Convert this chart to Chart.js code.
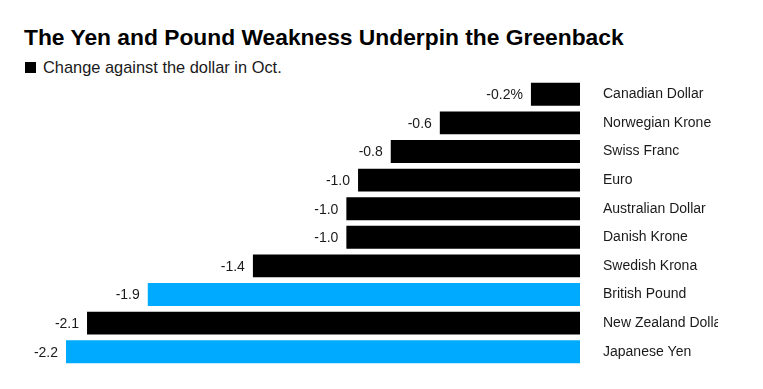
<!DOCTYPE html>
<html>
<head>
<meta charset="utf-8">
<script src="https://cdn.jsdelivr.net/npm/chart.js@4"></script>
<style>
  body { margin: 0; background: #fff; font-family: "Liberation Sans", Arial, sans-serif; }
  .wrap { position: relative; width: 763px; height: 389px; overflow: hidden; }
  .title { position: absolute; left: 24px; top: 24px; font-size: 22.8px; font-weight: bold; color: #000; white-space: nowrap; }
  .legend { position: absolute; left: 25px; top: 58px; font-size: 16.4px; color: #1a1a1a; white-space: nowrap; }
  .legend i { display: inline-block; width: 11px; height: 11px; background: #000; margin-right: 7px; }
  canvas { position: absolute; left: 0; top: 0; }
</style>
</head>
<body>
<div class="wrap">
  <div class="title">The Yen and Pound Weakness Underpin the Greenback</div>
  <div class="legend"><i></i>Change against the dollar in Oct.</div>
  <canvas id="chart" width="718" height="389"></canvas>
</div>
<script>
const currencies = ['Canadian Dollar', 'Norwegian Krone', 'Swiss Franc', 'Euro', 'Australian Dollar',
  'Danish Krone', 'Swedish Krona', 'British Pound', 'New Zealand Dollar', 'Japanese Yen']
const changes = [-0.21, -0.6, -0.81, -0.95, -1.0, -1.0, -1.4, -1.85, -2.11, -2.2]
const valueLabels = ['-0.2%', '-0.6', '-0.8', '-1.0', '-1.0', '-1.0', '-1.4', '-1.9', '-2.1', '-2.2']
const highlighted = ['British Pound', 'Japanese Yen']

const barColors = currencies.map(c => highlighted.includes(c) ? '#00aaff' : '#000000')

// value text sits just left of each bar's end
const valueLabelPlugin = {
  id: 'valueLabels',
  afterDatasetsDraw(chart) {
    const ctx = chart.ctx
    const meta = chart.getDatasetMeta(0)
    ctx.save()
    ctx.font = '14px "Liberation Sans", Arial, sans-serif'
    ctx.fillStyle = '#1a1a1a'
    ctx.textAlign = 'right'
    ctx.textBaseline = 'middle'
    meta.data.forEach((bar, i) => {
      ctx.fillText(valueLabels[i], bar.x - 8, bar.y + 1)
    })
    ctx.restore()
  }
}

new Chart(document.getElementById('chart'), {
  type: 'bar',
  data: {
    labels: currencies,
    datasets: [{
      data: changes,
      backgroundColor: barColors,
      borderWidth: 0,
      categoryPercentage: 0.8,
      barPercentage: 1
    }]
  },
  options: {
    indexAxis: 'y',
    responsive: false,
    animation: false,
    devicePixelRatio: 1,
    layout: { padding: { left: 66, top: 80, bottom: 23, right: 0 } },
    plugins: {
      legend: { display: false },
      tooltip: { enabled: false }
    },
    scales: {
      x: {
        display: false,
        min: -2.2,
        max: 0
      },
      y: {
        position: 'right',
        // invisible tick marks push the labels away from the zero line
        grid: { drawOnChartArea: false, drawTicks: true, tickLength: 23, color: 'rgba(0,0,0,0)' },
        border: { display: false },
        afterFit: scale => { scale.width = 138 },
        ticks: {
          padding: 0,
          autoSkip: false,
          color: '#1a1a1a',
          font: { family: '"Liberation Sans", Arial, sans-serif', size: 14 }
        }
      }
    }
  },
  plugins: [valueLabelPlugin]
})
</script>
</body>
</html>
